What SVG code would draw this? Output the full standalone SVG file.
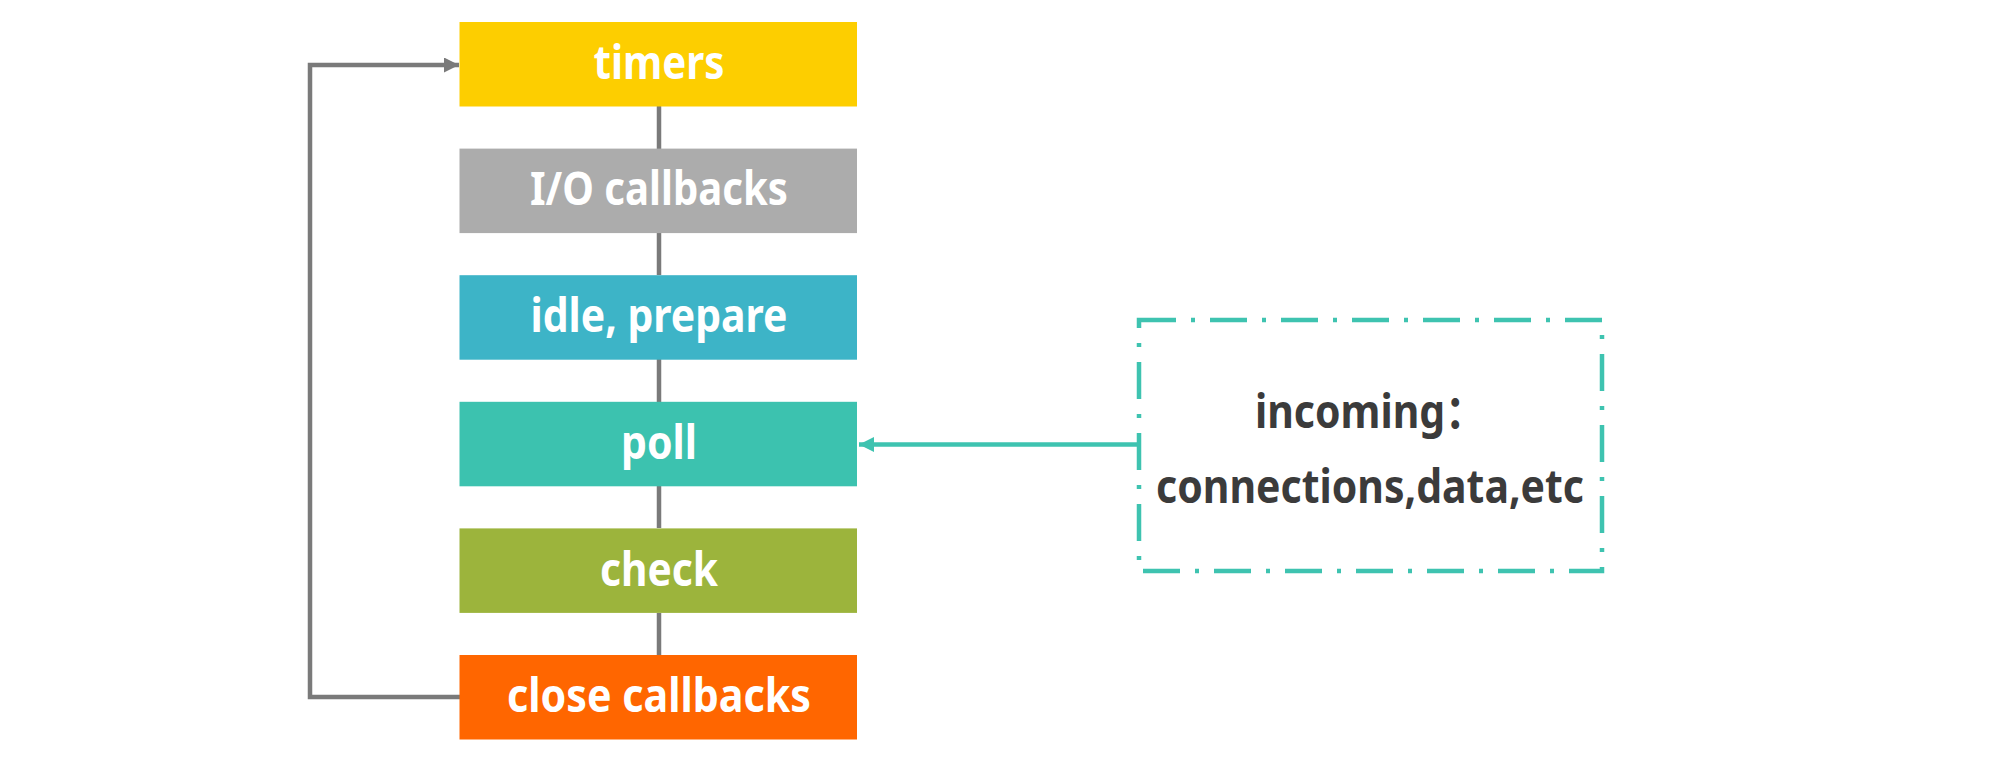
<svg xmlns="http://www.w3.org/2000/svg" width="2002" height="757" viewBox="0 0 2002 757">
<style>
.box{stroke:none}
.lbl{font-family:"Noto Sans","Open Sans",sans-serif;font-weight:bold;font-size:46px;fill:#ffffff}
.note{font-family:"Noto Sans","Noto Sans CJK SC",sans-serif;font-weight:bold;font-size:46px;fill:#3b3b3b}
.link{stroke:#7a7a7a;stroke-width:4.5;fill:none}
</style>
<defs>
<marker id="ga" markerUnits="userSpaceOnUse" markerWidth="16" markerHeight="16" refX="15" refY="7.5" orient="auto">
<path d="M0,0 L15,7.5 L0,15 Z" fill="#7a7a7a"/>
</marker>
<marker id="ta" markerUnits="userSpaceOnUse" markerWidth="16" markerHeight="16" refX="15" refY="7.5" orient="auto">
<path d="M0,0 L15,7.5 L0,15 Z" fill="#3ec3b0"/>
</marker>
</defs>
<rect width="2002" height="757" fill="#ffffff"/>
<g id="connectors">
<line class="link" x1="659" y1="106" x2="659" y2="149"/>
<line class="link" x1="659" y1="233" x2="659" y2="275"/>
<line class="link" x1="659" y1="359" x2="659" y2="402"/>
<line class="link" x1="659" y1="486" x2="659" y2="528"/>
<line class="link" x1="659" y1="613" x2="659" y2="655"/>
<polyline class="link" points="460,697 310,697 310,65 459,65" marker-end="url(#ga)"/>
<line x1="1137" y1="444.5" x2="859" y2="444.5" stroke="#3ec3b0" stroke-width="4.5" marker-end="url(#ta)"/>
</g>
<g id="timers">
<rect class="box" x="459.5" y="22" width="397.5" height="84.5" fill="#fdce00"/>
<text class="lbl" x="659" y="79" text-anchor="middle" textLength="131" lengthAdjust="spacingAndGlyphs">timers</text>
</g>
<g id="io-callbacks">
<rect class="box" x="459.5" y="148.6" width="397.5" height="84.5" fill="#acacac"/>
<text class="lbl" x="659" y="205" text-anchor="middle" textLength="258" lengthAdjust="spacingAndGlyphs">I/O callbacks</text>
</g>
<g id="idle-prepare">
<rect class="box" x="459.5" y="275.2" width="397.5" height="84.5" fill="#3db4c7"/>
<text class="lbl" x="659" y="332" text-anchor="middle" textLength="257" lengthAdjust="spacingAndGlyphs">idle, prepare</text>
</g>
<g id="poll">
<rect class="box" x="459.5" y="401.8" width="397.5" height="84.5" fill="#3cc2af"/>
<text class="lbl" x="659" y="458.5" text-anchor="middle" textLength="76" lengthAdjust="spacingAndGlyphs">poll</text>
</g>
<g id="check">
<rect class="box" x="459.5" y="528.4" width="397.5" height="84.5" fill="#9cb43c"/>
<text class="lbl" x="659" y="585.5" text-anchor="middle" textLength="118" lengthAdjust="spacingAndGlyphs">check</text>
</g>
<g id="close-callbacks">
<rect class="box" x="459.5" y="655" width="397.5" height="84.5" fill="#ff6600"/>
<text class="lbl" x="659" y="712" text-anchor="middle" textLength="304" lengthAdjust="spacingAndGlyphs">close callbacks</text>
</g>
<g id="incoming">
<rect x="1139" y="320" width="463" height="251" fill="none" stroke="#3ec3b0" stroke-width="4.5" stroke-dasharray="37 15 4 15"/>
<text class="note" x="1255" y="428" textLength="231" lengthAdjust="spacingAndGlyphs">incoming：</text>
<text class="note" x="1370" y="503" text-anchor="middle" textLength="428" lengthAdjust="spacingAndGlyphs">connections,data,etc</text>
</g>
</svg>
